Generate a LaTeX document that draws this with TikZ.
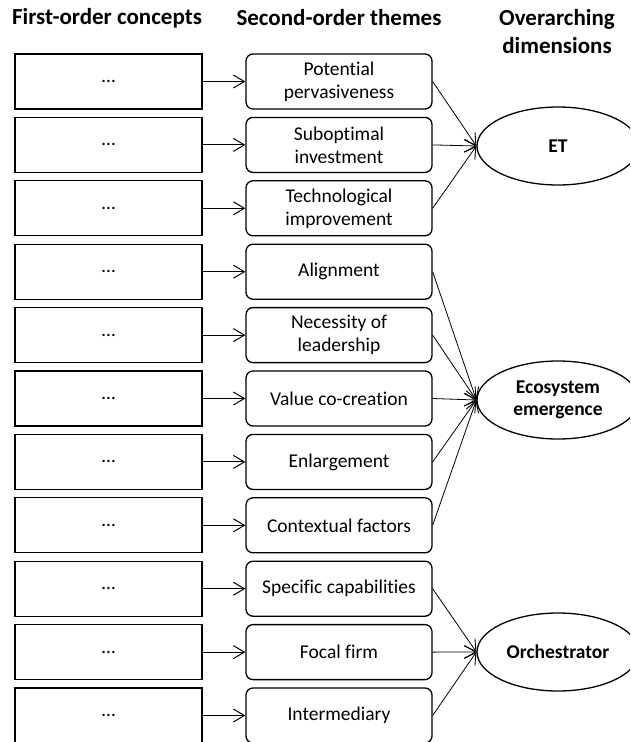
\documentclass[tikz,border=0pt]{standalone}
\usepackage{fontspec}
\setmainfont[Ligatures=NoCommon]{Carlito}
\usetikzlibrary{shapes.geometric,arrows.meta}
\begin{document}
\begin{tikzpicture}[x=1pt,y=-1pt,
  lbox/.style={draw,line width=1.3pt,minimum width=187pt,minimum height=55pt,inner sep=0pt,font=\fontsize{19.5}{23}\selectfont},
  mbox/.style={draw,line width=1.3pt,rounded corners=7pt,minimum width=186pt,minimum height=55pt,inner sep=2pt,align=center,font=\fontsize{19.5}{23}\selectfont},
  ell/.style={ellipse,draw,line width=1.3pt,minimum width=162pt,minimum height=78pt,inner sep=0pt,align=center,font=\fontsize{19.5}{22}\selectfont\bfseries},
  hdr/.style={font=\fontsize{23}{28}\selectfont\bfseries,align=center},
  arr/.style={line width=1pt,-{Straight Barb[length=11pt,width=13pt,line width=1pt]}},
  conn/.style={line width=0.8pt,-{Straight Barb[length=11pt,width=13pt,line width=0.9pt]}}
]
\clip (0,0) rectangle (630,742);
\fill[white] (0,0) rectangle (630,742);
\node[hdr] (h1) at (107,18) {First-order concepts};
\node[hdr] (h2) at (339,18) {Second-order themes};
\node[hdr] (h3) at (557,32) {Overarching\\dimensions};
\foreach \i/\t in {1/{Potential\\pervasiveness},2/{Suboptimal\\investment},3/{Technological\\improvement},4/{Alignment},5/{Necessity of\\leadership},6/{Value co-creation},7/{Enlargement},8/{Contextual factors},9/{Specific capabilities},10/{Focal firm},11/{Intermediary}}{
  \pgfmathsetmacro{\yy}{81.5+(\i-1)*63.4}
  \node[lbox] (l\i) at (108.5,\yy) {…};
  \node[mbox] (m\i) at (339,\yy) {\t};
  \draw[arr] (l\i) -- (m\i);
}
\node[ell] (e1) at (558,146) {ET};
\node[ell] (e2) at (558,400) {Ecosystem\\emergence};
\node[ell] (e3) at (558,652) {Orchestrator};
\foreach \i in {1,2,3} \draw[conn] (m\i.east) -- (e1.west);
\foreach \i in {4,5,6,7,8} \draw[conn] (m\i.east) -- (e2.west);
\foreach \i in {9,10,11} \draw[conn] (m\i.east) -- (e3.west);
\end{tikzpicture}
\end{document}
